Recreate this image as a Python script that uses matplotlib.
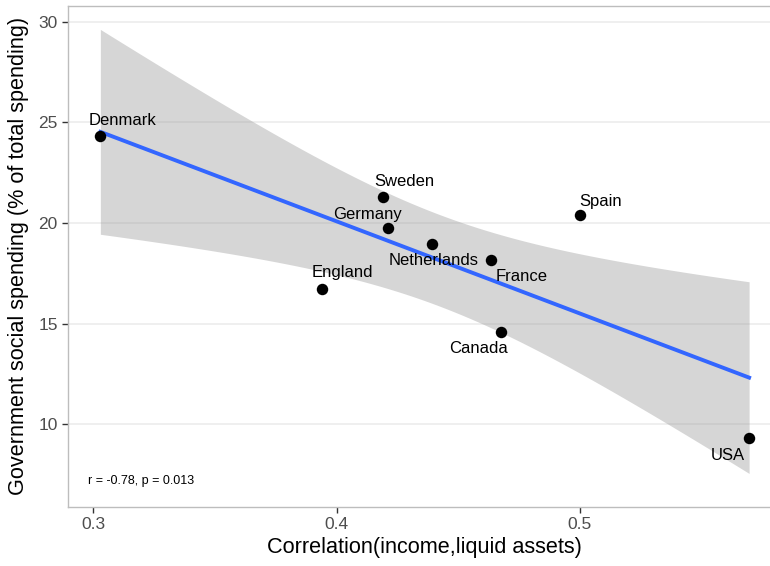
import matplotlib
matplotlib.use("Agg")
import matplotlib.pyplot as plt
import numpy as np

plt.rcParams['font.family'] = ['Liberation Sans', 'DejaVu Sans']

# data
countries = ["Denmark", "Sweden", "Germany", "Netherlands", "France",
             "Spain", "Canada", "England", "USA"]
corr_income_assets = [0.3029, 0.4191, 0.4211, 0.4393, 0.4633,
                      0.5000, 0.4674, 0.3940, 0.5695]
social_spending = [24.32, 21.29, 19.74, 18.96, 18.16,
                   20.40, 14.60, 16.72, 9.30]
cor_label = "r = -0.78, p = 0.013"

# label offsets in points (like ggrepel placement)
label_offsets = [(16, 11), (15, 11), (-15, 10), (1, -12), (22, -12),
                 (15, 10), (-16, -12), (15, 12), (-15, -12)]

x = np.array(corr_income_assets)
y = np.array(social_spending)

# linear fit with 95% confidence band (geom_smooth(method="lm"))
n = len(x)
b1, b0 = np.polyfit(x, y, 1)
xs = np.linspace(x.min(), x.max(), 80)
fit = b0 + b1 * xs
resid = y - (b0 + b1 * x)
s = np.sqrt(np.sum(resid ** 2) / (n - 2))
t_crit = 2.364624  # t(0.975, df=7)
se = s * np.sqrt(1 / n + (xs - x.mean()) ** 2 / np.sum((x - x.mean()) ** 2))

fig = plt.figure(figsize=(7.7, 5.66), dpi=100)
ax = fig.add_axes([0.0883, 0.1042, 0.9266, 0.8852])

ax.yaxis.grid(True, color="#ebebeb", linewidth=1.1)
ax.set_axisbelow(True)

ax.fill_between(xs, fit - t_crit * se, fit + t_crit * se,
                color="#999999", alpha=0.4, linewidth=0, zorder=2)
ax.plot(xs, fit, color="#3366FF", linewidth=2.8, zorder=3)
ax.scatter(x, y, s=68, color="black", zorder=4, linewidths=0)

for name, xi, yi, off in zip(countries, x, y, label_offsets):
    ax.annotate(name, (xi, yi), xytext=off, textcoords="offset points",
                ha="center", va="center", fontsize=12, color="black", zorder=5)

ax.text(0.2977, 7.18, cor_label, fontsize=9, ha="left", va="center")

ax.set_xlim(0.2896, 0.5828)
ax.set_ylim(5.89, 30.78)
ax.set_xticks([0.3, 0.4, 0.5])
ax.set_xticklabels(["0.3", "0.4", "0.5"])
ax.set_yticks([10, 15, 20, 25, 30])

for side in ["left", "top", "bottom", "right"]:
    ax.spines[side].set_color("#bdbdbd")
    ax.spines[side].set_linewidth(1.0)

ax.tick_params(axis="both", length=4.3, width=1.0, color="#333333",
               labelsize=12.5, labelcolor="#4d4d4d", pad=3)

ax.set_xlabel("Correlation(income,liquid assets)", fontsize=15.6)
ax.set_ylabel("Government social spending (% of total spending)", fontsize=15.6)
ax.xaxis.set_label_coords(0.5, -0.06)
ax.yaxis.set_label_coords(-0.055, 0.502)

fig.savefig("out.png", dpi=100)
